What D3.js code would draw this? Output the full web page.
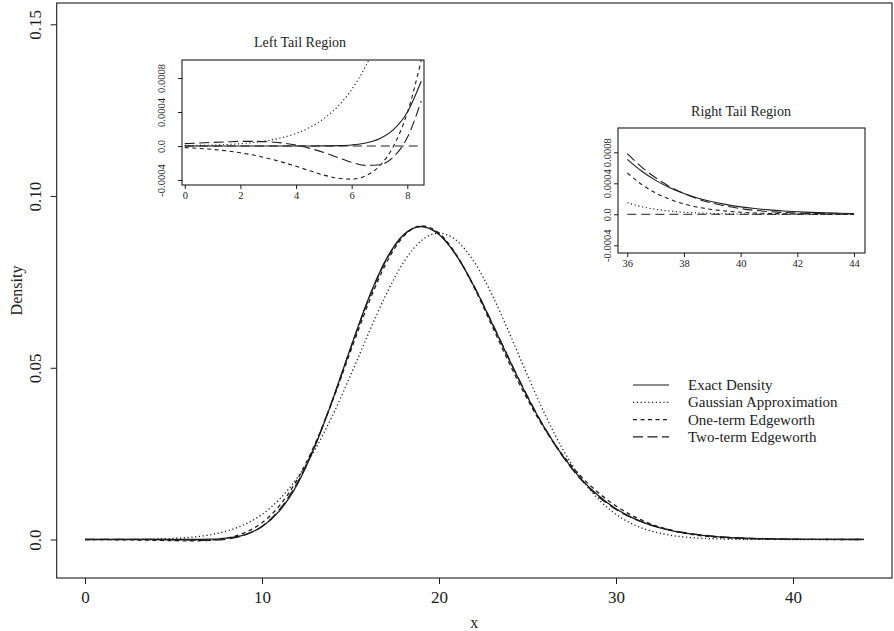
<!DOCTYPE html>
<html>
<head>
<meta charset="utf-8">
<script src="https://cdn.jsdelivr.net/npm/d3@7/dist/d3.min.js"></script>
<style>
  body { margin: 0; background: #fff; }
  svg { display: block; }
  text { font-family: "Liberation Serif", "DejaVu Serif", serif; fill: #1c1c1c; }
</style>
</head>
<body>
<svg id="chart" width="894" height="631"></svg>
<script>
// Main panel, x = 0..44
const mainX = [0,1,2,3,4,5,6,7,8,9,10,11,12,13,14,15,16,17,18,19,20,21,22,23,24,25,26,27,28,29,30,31,32,33,34,35,36,37,38,39,40,41,42,43,44];
const mainExact = [0,0,0,0,0.00000004,0.000001,0.0000124,0.0000853,0.000397,0.00137,0.00373,0.0084,0.0161,0.0272,0.0408,0.0557,0.0699,0.0814,0.0887,0.0911,0.0888,0.0826,0.0735,0.0629,0.052,0.0415,0.0322,0.0243,0.0178,0.0128,0.00894,0.00613,0.00412,0.00272,0.00177,0.00113,0.000708,0.000438,0.000268,0.000161,0.000096,0.0000565,0.0000329,0.0000189,0.0000107];
const mainGauss = [0.000004,0.0000107,0.0000271,0.000065,0.000148,0.000322,0.000664,0.0013,0.00244,0.00433,0.00732,0.01178,0.01801,0.02621,0.03627,0.04775,0.0598,0.07123,0.08072,0.08701,0.08921,0.08701,0.08072,0.07123,0.0598,0.04775,0.03627,0.02621,0.01801,0.01178,0.00732,0.00433,0.00244,0.0013,0.000664,0.000322,0.000148,0.000065,0.0000271,0.0000107,0.000004,0.0000015,0.0000005,0.0000002,0.0000001];
const mainEdge1 = [-0.0000189,-0.0000403,-0.0000802,-0.000146,-0.000239,-0.000342,-0.00039,-0.000236,0.00039,0.00191,0.00488,0.00992,0.01753,0.02789,0.04062,0.05471,0.06857,0.08031,0.08825,0.09129,0.08921,0.08273,0.07319,0.06215,0.05103,0.04079,0.03192,0.02453,0.01849,0.01364,0.00976,0.00675,0.00448,0.00284,0.00172,0.000986,0.000535,0.000276,0.000134,0.000062,0.000027,0.000011,0.0000044,0.0000015,0.0000005];
const mainEdge2 = [0.0000279,0.0000424,0.0000542,0.0000496,0.00001,-0.0000774,-0.000191,-0.00022,0.000099,0.00124,0.00388,0.0088,0.0166,0.02748,0.0409,0.05558,0.06968,0.08122,0.08863,0.09114,0.08884,0.08258,0.07357,0.06305,0.05214,0.04166,0.03219,0.02411,0.01756,0.01251,0.00876,0.00608,0.00419,0.00286,0.00192,0.00125,0.000784,0.000471,0.000269,0.000144,0.000074,0.000035,0.000016,0.000007,0.000003];

// Left tail inset, x = 0..8.5
const leftX = [0,0.5,1,1.5,2,2.5,3,3.5,4,4.5,5,5.5,6,6.5,7,7.5,8,8.5];
const leftExact = [0,0,0,0,0,0,0,0,0.00000004,0.0000002,0.000001,0.0000039,0.0000124,0.0000344,0.0000853,0.000192,0.000397,0.000762];
const leftGauss = [0.000004,0.0000066,0.0000107,0.000017,0.0000271,0.000042,0.000065,0.0000988,0.000148,0.00022,0.000322,0.000465,0.000664,0.000937,0.0013,0.0018,0.00244,0.00327];
const leftEdge1 = [-0.0000189,-0.0000278,-0.0000403,-0.000057,-0.0000802,-0.000109,-0.000146,-0.0001895,-0.000239,-0.000292,-0.000342,-0.000379,-0.00039,-0.000351,-0.000236,-0.0000045,0.00039,0.001006];
const leftEdge2 = [0.0000279,0.0000349,0.0000424,0.0000489,0.0000542,0.0000548,0.0000496,0.0000356,0.00001,-0.0000278,-0.0000774,-0.000135,-0.000191,-0.000228,-0.00022,-0.000129,0.000099,0.000529];

// Right tail inset, x = 36..44
const rightX = [36,36.5,37,37.5,38,38.5,39,39.5,40,40.5,41,41.5,42,42.5,43,43.5,44];
const rightExact = [0.000708,0.000558,0.000438,0.000343,0.000268,0.000208,0.000161,0.000125,0.000096,0.000074,0.0000565,0.000043,0.0000329,0.000025,0.0000189,0.0000143,0.0000107];
const rightGauss = [0.000148,0.0000988,0.000065,0.000042,0.0000271,0.000017,0.0000107,0.0000066,0.000004,0.0000024,0.0000015,0.0000009,0.0000005,0.0000003,0.0000002,0.0000001,0.0000001];
const rightEdge1 = [0.000535,0.000387,0.000276,0.000193,0.000134,0.000091,0.000062,0.000041,0.000027,0.000017,0.000011,0.000007,0.0000044,0.0000027,0.0000016,0.000001,0.0000006];
const rightEdge2 = [0.000784,0.000612,0.000471,0.000356,0.000269,0.000197,0.000144,0.000104,0.000074,0.000051,0.000035,0.000024,0.000016,0.000011,0.000007,0.0000046,0.000003];

const mainXTicks = [0, 10, 20, 30, 40];
const mainYTicks = [0, 0.05, 0.1, 0.15];
const mainYLabels = ["0.0", "0.05", "0.10", "0.15"];
const leftXTicks = [0, 2, 4, 6, 8];
const rightXTicks = [36, 38, 40, 42, 44];
const insetYTicks = [-0.0004, 0, 0.0004, 0.0008];
const insetYLabels = ["-0.0004", "0.0", "0.0004", "0.0008"];

const seriesNames = ["Exact Density", "Gaussian Approximation", "One-term Edgeworth", "Two-term Edgeworth"];
const dashes = [null, "1.2,2.6", "4,3.5", "10,4.5"];
const INK = "#1c1c1c";

const svg = d3.select("#chart");

function drawPanel({ g, id, x, y, xs, ys, frame, xTicks, yTicks, yLabels, tick, xLabGap, yLabGap, fs, lw, zeroLine }) {
  g.append("clipPath").attr("id", id).append("rect")
    .attr("x", frame.x0).attr("y", frame.y0)
    .attr("width", frame.x1 - frame.x0).attr("height", frame.y1 - frame.y0);

  if (zeroLine) {
    g.append("line")
      .attr("x1", x(d3.min(xs))).attr("x2", x(d3.max(xs)))
      .attr("y1", y(0)).attr("y2", y(0))
      .attr("stroke", INK).attr("stroke-width", lw * 0.9)
      .attr("stroke-dasharray", "9,5");
  }

  const line = d3.line().x((d) => x(d[0])).y((d) => y(d[1])).curve(d3.curveMonotoneX);
  const lines = g.append("g").attr("clip-path", `url(#${id})`);
  ys.forEach((vals, i) => {
    lines.append("path")
      .datum(xs.map((xv, j) => [xv, vals[j]]))
      .attr("fill", "none")
      .attr("stroke", INK)
      .attr("stroke-width", lw)
      .attr("stroke-dasharray", dashes[i])
      .attr("d", line);
  });

  g.append("rect")
    .attr("x", frame.x0).attr("y", frame.y0)
    .attr("width", frame.x1 - frame.x0).attr("height", frame.y1 - frame.y0)
    .attr("fill", "none").attr("stroke", INK).attr("stroke-width", 1.1);

  const xAxis = g.append("g")
    .attr("transform", `translate(0, ${frame.y1})`)
    .call(d3.axisBottom(x).tickValues(xTicks).tickSize(tick).tickPadding(xLabGap).tickFormat(d3.format("d")));
  xAxis.select(".domain").remove();
  xAxis.selectAll(".tick line").attr("stroke", INK);
  xAxis.selectAll(".tick text").style("font-size", fs + "px").attr("fill", INK);

  const yAxis = g.append("g")
    .attr("transform", `translate(${frame.x0}, 0)`)
    .call(d3.axisLeft(y).tickValues(yTicks).tickSize(tick).tickFormat((d, i) => yLabels[i]));
  yAxis.select(".domain").remove();
  yAxis.selectAll(".tick line").attr("stroke", INK);
  yAxis.selectAll(".tick text")
    .attr("x", 0).attr("y", 0).attr("dy", "0.35em")
    .attr("text-anchor", "middle")
    .attr("transform", `translate(${-yLabGap}, 0) rotate(-90)`)
    .style("font-size", fs + "px").attr("fill", INK);
}

// Main panel
const mainFrame = { x0: 56.7, x1: 892, y0: 3, y1: 578 };
const mx = d3.scaleLinear().domain([0, 40]).range([85, 793]);
const my = d3.scaleLinear().domain([0, 0.15]).range([539.5, 24.3]);

drawPanel({
  g: svg.append("g"), id: "clip-main", x: mx, y: my, xs: mainX,
  ys: [mainExact, mainGauss, mainEdge1, mainEdge2], frame: mainFrame,
  xTicks: mainXTicks, yTicks: mainYTicks, yLabels: mainYLabels,
  tick: 6, xLabGap: 7, yLabGap: 22, fs: 17, lw: 1.3, zeroLine: false,
});

svg.append("text").attr("x", (mainFrame.x0 + mainFrame.x1) / 2).attr("y", 628)
  .attr("text-anchor", "middle").style("font-size", "16px").text("x");
svg.append("text").attr("transform", `translate(16, ${(mainFrame.y0 + mainFrame.y1) / 2}) rotate(-90)`)
  .attr("dy", "0.35em").attr("text-anchor", "middle").style("font-size", "16px").text("Density");

// Left tail inset
const leftFrame = { x0: 182, x1: 424, y0: 60, y1: 185 };
const lx = d3.scaleLinear().domain([-0.1, 8.6]).range([leftFrame.x0, leftFrame.x1]);
const ly = d3.scaleLinear().domain([0, 0.0004]).range([146, 112]);
const leftG = svg.append("g");
leftG.append("rect").attr("x", leftFrame.x0).attr("y", leftFrame.y0)
  .attr("width", leftFrame.x1 - leftFrame.x0).attr("height", leftFrame.y1 - leftFrame.y0).attr("fill", "#fff");
drawPanel({
  g: leftG, id: "clip-left", x: lx, y: ly, xs: leftX,
  ys: [leftExact, leftGauss, leftEdge1, leftEdge2], frame: leftFrame,
  xTicks: leftXTicks, yTicks: insetYTicks, yLabels: insetYLabels,
  tick: 4, xLabGap: 3, yLabGap: 21, fs: 10.5, lw: 1.1, zeroLine: true,
});
leftG.append("text").attr("x", 300).attr("y", 47).attr("text-anchor", "middle")
  .style("font-size", "14px").text("Left Tail Region");

// Right tail inset
const rightFrame = { x0: 618, x1: 865, y0: 128, y1: 253 };
const rx = d3.scaleLinear().domain([36, 44]).range([627.3, 854]);
const ry = d3.scaleLinear().domain([0, 0.0004]).range([214.3, 183.3]);
const rightG = svg.append("g");
rightG.append("rect").attr("x", rightFrame.x0).attr("y", rightFrame.y0)
  .attr("width", rightFrame.x1 - rightFrame.x0).attr("height", rightFrame.y1 - rightFrame.y0).attr("fill", "#fff");
drawPanel({
  g: rightG, id: "clip-right", x: rx, y: ry, xs: rightX,
  ys: [rightExact, rightGauss, rightEdge1, rightEdge2], frame: rightFrame,
  xTicks: rightXTicks, yTicks: insetYTicks, yLabels: insetYLabels,
  tick: 4, xLabGap: 3, yLabGap: 11, fs: 10.5, lw: 1.1, zeroLine: true,
});
rightG.append("text").attr("x", 741).attr("y", 116).attr("text-anchor", "middle")
  .style("font-size", "14px").text("Right Tail Region");

// Legend
const legend = svg.append("g").attr("transform", "translate(633, 385)");
seriesNames.forEach((name, i) => {
  const row = legend.append("g").attr("transform", `translate(0, ${i * 17.3})`);
  row.append("line").attr("x1", 0).attr("x2", 36).attr("y1", 0).attr("y2", 0)
    .attr("stroke", INK).attr("stroke-width", 1.2).attr("stroke-dasharray", dashes[i]);
  row.append("text").attr("x", 55).attr("y", 0).attr("dy", "0.33em")
    .style("font-size", "15px").text(name);
});
</script>
</body>
</html>
